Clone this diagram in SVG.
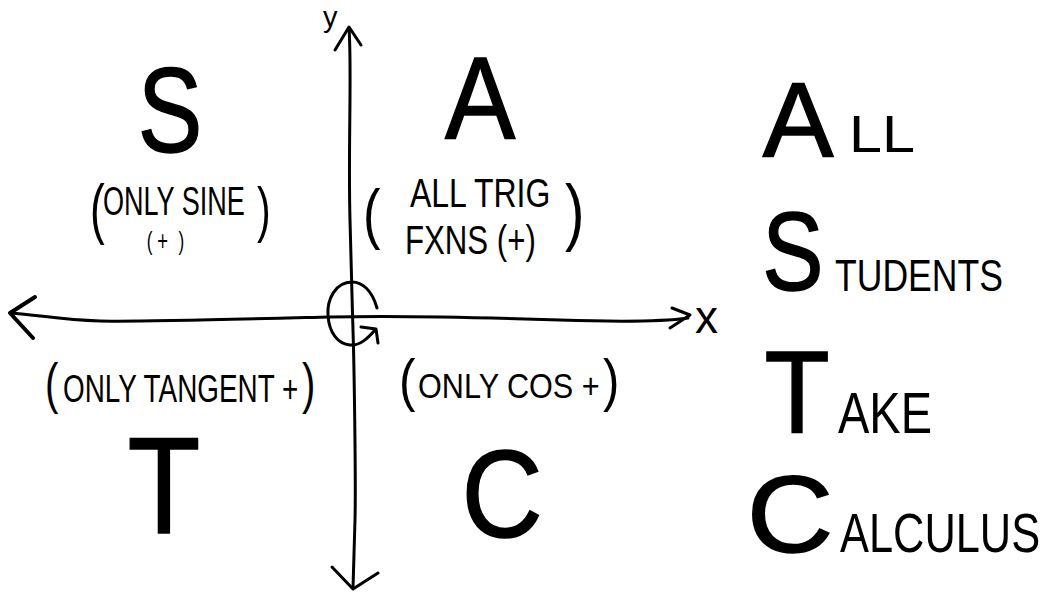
<svg xmlns="http://www.w3.org/2000/svg" width="1043" height="592" viewBox="0 0 1043 592">
<style>
.ln{fill:none;stroke:#000;stroke-width:3;stroke-linecap:round;stroke-linejoin:round}
.big{font-family:"Liberation Sans",Arial,sans-serif;fill:#000;stroke:#000;stroke-width:1.5;text-anchor:middle}
.sm{font-family:"Liberation Sans",Arial,sans-serif;fill:#000}
</style>
<rect width="1043" height="592" fill="#fff"/>
<g id="axes">
<path class="ln" d="M349,28 C352,70 348,150 350,220 S352,300 353,330 S356,480 355,520 L353,588"/>
<path class="ln" d="M335,50 L349,27 L361,45"/>
<path class="ln" d="M332,567 L353,589 L378,573"/>
<path class="ln" d="M10,313 C40,315 60,320 100,321 S250,319 330,317 S500,318 560,320 S660,322 688,318"/>
<path class="ln" style="stroke-width:4" d="M35,297 L10,313 L33,338"/>
<path class="ln" d="M672,308 L690,315 L670,328"/>
<path class="ln" d="M377,308 C372,290 362,282 352,282 C335,282 327,300 328,315 C329,333 338,344 350,345 C360,346 368,338 375,330"/>
<path class="ln" d="M361,327 L376,329 L378,343"/>
<text class="sm" x="323" y="27" font-size="29">y</text>
<text class="sm" x="695" y="333" font-size="46">x</text>
</g>
<g id="quadrant-S">
<text class="big" transform="translate(170,152) scale(0.8,1)" font-size="121">S</text>
<text class="sm" transform="translate(90,0) scale(0.66,1)"><tspan x="0" y="231" font-size="67">(</tspan><tspan x="19.7" y="215" font-size="41">ONLY SINE</tspan><tspan x="86" y="250" font-size="26">(</tspan><tspan x="102" y="250" font-size="28">+</tspan><tspan x="134" y="250" font-size="26">)</tspan><tspan x="253" y="230" font-size="62">)</tspan></text>
</g>
<g id="quadrant-A">
<text class="big" transform="translate(480,139) scale(0.9,1)" font-size="117">A</text>
<text class="sm" transform="translate(363,0) scale(0.78,1)"><tspan x="0" y="236" font-size="67">(</tspan><tspan x="60.3" y="207" font-size="41">ALL TRIG</tspan><tspan x="53.8" y="254" font-size="40">FXNS (+)</tspan><tspan x="259" y="237" font-size="75">)</tspan></text>
</g>
<g id="quadrant-T">
<text class="sm" transform="translate(45,0) scale(0.715,1)"><tspan x="0" y="402" font-size="56">(</tspan><tspan x="25.2" y="402" font-size="39">ONLY TANGENT +</tspan><tspan x="359.4" y="402" font-size="56">)</tspan></text>
<text class="big" transform="translate(164,533) scale(0.87,1)" font-size="137">T</text>
</g>
<g id="quadrant-C">
<text class="sm" transform="translate(399,0) scale(0.85,1)"><tspan x="0" y="400" font-size="58">(</tspan><tspan x="22.4" y="398" font-size="36">ONLY COS +</tspan><tspan x="240" y="400" font-size="58">)</tspan></text>
<text class="big" transform="translate(502,537) scale(0.9,1)" font-size="125">C</text>
</g>
<g id="mnemonic">
<text class="big" transform="translate(798,156)" font-size="106">A</text>
<text class="sm" transform="translate(849,152) scale(1.14,1)" font-size="52">LL</text>
<text class="big" transform="translate(793,290) scale(0.82,1)" font-size="112">S</text>
<text class="sm" transform="translate(835,291) scale(0.79,1)" font-size="45">TUDENTS</text>
<text class="big" transform="translate(797,433) scale(0.92,1)" font-size="116">T</text>
<text class="sm" transform="translate(838,433) scale(0.81,1)" font-size="58">AKE</text>
<text class="big" transform="translate(790,552) scale(1.1,1)" font-size="109">C</text>
<text class="sm" transform="translate(840,552) scale(0.775,1)" font-size="56">ALCULUS</text>
</g>
</svg>
